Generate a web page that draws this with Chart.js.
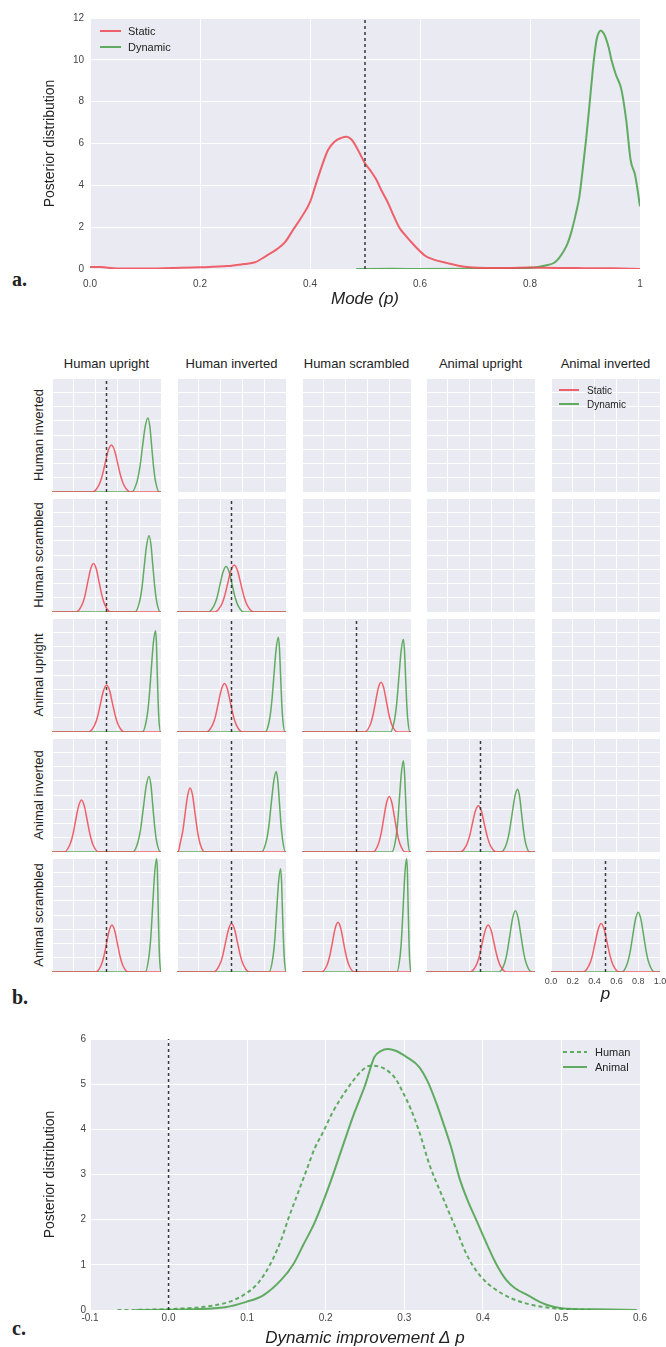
<!DOCTYPE html>
<html>
<head>
<meta charset="utf-8">
<script src="https://cdn.jsdelivr.net/npm/chart.js@4.4.1/dist/chart.umd.min.js"></script>
<style>
html, body { margin: 0; padding: 0; width: 666px; height: 1347px; overflow: hidden; background: #fff; }
body { position: relative; font-family: 'Liberation Sans', Arial, sans-serif; color: #222; }
canvas { position: absolute; }
.lab { position: absolute; white-space: nowrap; transform: translate(-50%, -50%); font-size: 13px; }
.rowlab { transform: translate(-50%, -50%) rotate(-90deg); }
.plabel { position: absolute; font: bold 20px 'Liberation Serif', 'Times New Roman', serif; transform: translateY(-50%); }
.legend { position: absolute; color: #222; }
.legend .item { display: flex; align-items: center; }
.legend .sw { height: 2px; display: inline-block; }
</style>
</head>
<body>
<div class="plabel" style="left:12px;top:279px">a.</div>
<div class="plabel" style="left:12px;top:997px">b.</div>
<div class="plabel" style="left:12px;top:1328px">c.</div>
<script>
// ---- panel a : posterior of the mode p
const xTicksA = ['0.0', '0.2', '0.4', '0.6', '0.8', '1'];
const chanceP = 0.5;
const staticA = [[0,0.1],[0.02,0.09],[0.05,0.02],[0.1,0.02],[0.15,0.05],[0.2,0.08],[0.25,0.14],[0.28,0.24],[0.3,0.32],[0.32,0.62],[0.34,0.95],[0.355,1.3],[0.37,1.9],[0.385,2.5],[0.4,3.2],[0.41,4.0],[0.42,4.8],[0.433,5.7],[0.445,6.1],[0.457,6.27],[0.466,6.32],[0.475,6.2],[0.484,5.85],[0.492,5.45],[0.5,5.05],[0.51,4.7],[0.52,4.3],[0.53,3.75],[0.542,3.15],[0.552,2.55],[0.562,2.0],[0.572,1.65],[0.582,1.35],[0.595,0.98],[0.61,0.62],[0.625,0.45],[0.65,0.28],[0.67,0.16],[0.69,0.08],[0.72,0.05],[0.76,0.05],[0.8,0.07],[0.85,0.05],[0.9,0.04],[0.95,0.03],[1.0,0.0]];
const dynamicA = [[0.484,0],[0.55,0.01],[0.6,0.0],[0.7,0.01],[0.78,0.03],[0.8,0.06],[0.815,0.1],[0.828,0.17],[0.844,0.3],[0.852,0.5],[0.86,0.8],[0.868,1.2],[0.875,1.75],[0.883,2.6],[0.89,3.5],[0.896,4.8],[0.902,6.2],[0.908,7.8],[0.913,9.2],[0.917,10.2],[0.921,10.95],[0.925,11.3],[0.929,11.4],[0.933,11.3],[0.937,11.1],[0.943,10.6],[0.948,10.0],[0.956,9.3],[0.966,8.6],[0.975,7.1],[0.983,5.2],[0.991,4.5],[1.0,3.0]];

// ---- panel b : pairwise comparisons (rows vs columns)
const rowNames = ['Human inverted', 'Human scrambled', 'Animal upright', 'Animal inverted', 'Animal scrambled'];
const colNames = ['Human upright', 'Human inverted', 'Human scrambled', 'Animal upright', 'Animal inverted'];
const xTicksB = ['0.0', '0.2', '0.4', '0.6', '0.8', '1.0'];

// Human inverted row
const st_hi_hu = [[0,0],[0.371,0],[0.429,0.46],[0.458,1.07],[0.487,2.0],[0.516,2.91],[0.545,3.3],[0.574,2.91],[0.603,2.0],[0.632,1.07],[0.661,0.46],[0.719,0],[1,0]];
const dy_hi_hu = [[0,0],[0.73,0],[0.78,0.73],[0.805,1.69],[0.83,3.16],[0.855,4.59],[0.88,5.2],[0.898,4.59],[0.915,3.16],[0.933,1.69],[0.95,0.73],[0.985,0],[1,0]];
// Human scrambled row
const st_hs_hu = [[0,0],[0.221,0],[0.274,0.48],[0.301,1.1],[0.327,2.06],[0.354,3.0],[0.38,3.4],[0.407,3.0],[0.433,2.06],[0.46,1.1],[0.486,0.48],[0.539,0],[1,0]];
const dy_hs_hu = [[0,0],[0.761,0],[0.804,0.75],[0.826,1.74],[0.847,3.25],[0.869,4.72],[0.89,5.35],[0.908,4.72],[0.925,3.25],[0.943,1.74],[0.96,0.75],[0.995,0],[1,0]];
const st_hs_hi = [[0,0],[0.345,0],[0.405,0.46],[0.435,1.07],[0.465,2.0],[0.495,2.91],[0.525,3.3],[0.555,2.91],[0.585,2.0],[0.615,1.07],[0.645,0.46],[0.705,0],[1,0]];
const dy_hs_hi = [[0,0],[0.285,0],[0.34,0.45],[0.368,1.04],[0.395,1.94],[0.423,2.82],[0.45,3.2],[0.478,2.82],[0.505,1.94],[0.533,1.04],[0.56,0.45],[0.615,0],[1,0]];
// Animal upright row
const st_au_hu = [[0,0],[0.335,0],[0.39,0.46],[0.418,1.07],[0.445,2.0],[0.473,2.91],[0.5,3.3],[0.528,2.91],[0.555,2.0],[0.583,1.07],[0.61,0.46],[0.665,0],[1,0]];
const dy_au_hu = [[0,0],[0.83,0],[0.87,1.0],[0.89,2.3],[0.91,4.3],[0.93,6.26],[0.95,7.1],[0.958,6.26],[0.965,4.3],[0.973,2.3],[0.98,1.0],[0.995,0],[1,0]];
const st_au_hi = [[0,0],[0.27,0],[0.325,0.48],[0.353,1.1],[0.38,2.06],[0.408,3.0],[0.435,3.4],[0.463,3.0],[0.49,2.06],[0.518,1.1],[0.545,0.48],[0.6,0],[1,0]];
const dy_au_hi = [[0,0],[0.81,0],[0.85,0.93],[0.87,2.16],[0.89,4.04],[0.91,5.87],[0.93,6.65],[0.94,5.87],[0.95,4.04],[0.96,2.16],[0.97,0.93],[0.99,0],[1,0]];
const st_au_hs = [[0,0],[0.575,0],[0.625,0.49],[0.65,1.14],[0.675,2.12],[0.7,3.09],[0.725,3.5],[0.75,3.09],[0.775,2.12],[0.8,1.14],[0.825,0.49],[0.875,0],[1,0]];
const dy_au_hs = [[0,0],[0.81,0],[0.85,0.91],[0.87,2.1],[0.89,3.95],[0.91,5.73],[0.93,6.5],[0.94,5.73],[0.95,3.95],[0.96,2.1],[0.97,0.91],[0.99,0],[1,0]];
// Animal inverted row
const st_ai_hu = [[0,0],[0.111,0],[0.164,0.51],[0.191,1.19],[0.217,2.22],[0.244,3.22],[0.27,3.65],[0.297,3.22],[0.323,2.22],[0.35,1.19],[0.376,0.51],[0.429,0],[1,0]];
const dy_ai_hu = [[0,0],[0.74,0],[0.79,0.74],[0.815,1.72],[0.84,3.22],[0.865,4.67],[0.89,5.3],[0.908,4.67],[0.925,3.22],[0.943,1.72],[0.96,0.74],[0.995,0],[1,0]];
const st_ai_hi = [[0,0],[0.01,0],[0.03,0.63],[0.053,1.46],[0.075,2.73],[0.098,3.97],[0.12,4.5],[0.143,3.97],[0.165,2.73],[0.188,1.46],[0.21,0.63],[0.255,0],[1,0]];
const dy_ai_hi = [[0,0],[0.775,0],[0.82,0.79],[0.843,1.84],[0.865,3.43],[0.888,4.98],[0.91,5.65],[0.925,4.98],[0.94,3.43],[0.955,1.84],[0.97,0.79],[0.995,0],[1,0]];
const st_ai_hs = [[0,0],[0.65,0],[0.7,0.55],[0.725,1.27],[0.75,2.37],[0.775,3.44],[0.8,3.9],[0.825,3.44],[0.85,2.37],[0.875,1.27],[0.9,0.55],[0.95,0],[1,0]];
const dy_ai_hs = [[0,0],[0.825,0],[0.86,0.9],[0.878,2.08],[0.895,3.88],[0.913,5.64],[0.93,6.4],[0.94,5.64],[0.95,3.88],[0.96,2.08],[0.97,0.9],[0.99,0],[1,0]];
const st_ai_au = [[0,0],[0.315,0],[0.37,0.46],[0.398,1.06],[0.425,1.97],[0.453,2.87],[0.48,3.25],[0.508,2.87],[0.535,1.97],[0.563,1.06],[0.59,0.46],[0.645,0],[1,0]];
const dy_ai_au = [[0,0],[0.69,0],[0.74,0.62],[0.765,1.43],[0.79,2.67],[0.815,3.88],[0.84,4.4],[0.859,3.88],[0.877,2.67],[0.896,1.43],[0.914,0.62],[0.951,0],[1,0]];
// Animal scrambled row
const st_as_hu = [[0,0],[0.4,0],[0.45,0.46],[0.475,1.07],[0.5,2.0],[0.525,2.91],[0.55,3.3],[0.575,2.91],[0.6,2.0],[0.625,1.07],[0.65,0.46],[0.7,0],[1,0]];
const dy_as_hu = [[0,0],[0.855,0],[0.89,1.12],[0.908,2.6],[0.925,4.86],[0.943,7.05],[0.96,7.95],[0.967,7.05],[0.973,4.86],[0.98,2.6],[0.986,1.12],[0.999,0],[1,0]];
const st_as_hi = [[0,0],[0.335,0],[0.39,0.48],[0.418,1.1],[0.445,2.06],[0.473,3.0],[0.5,3.4],[0.528,3.0],[0.555,2.06],[0.583,1.1],[0.61,0.48],[0.665,0],[1,0]];
const dy_as_hi = [[0,0],[0.845,0],[0.88,1.02],[0.898,2.36],[0.915,4.4],[0.933,6.4],[0.95,7.25],[0.959,6.4],[0.967,4.4],[0.976,2.36],[0.984,1.02],[0.999,0],[1,0]];
const st_as_hs = [[0,0],[0.18,0],[0.23,0.49],[0.255,1.14],[0.28,2.12],[0.305,3.09],[0.33,3.5],[0.355,3.09],[0.38,2.12],[0.405,1.14],[0.43,0.49],[0.48,0],[1,0]];
const dy_as_hs = [[0,0],[0.87,0],[0.9,1.12],[0.915,2.6],[0.93,4.86],[0.945,7.05],[0.96,7.95],[0.967,7.05],[0.973,4.86],[0.98,2.6],[0.986,1.12],[0.999,0],[1,0]];
const st_as_au = [[0,0],[0.405,0],[0.46,0.46],[0.488,1.07],[0.515,2.0],[0.543,2.91],[0.57,3.3],[0.598,2.91],[0.625,2.0],[0.653,1.07],[0.68,0.46],[0.735,0],[1,0]];
const dy_as_au = [[0,0],[0.67,0],[0.72,0.6],[0.745,1.4],[0.77,2.61],[0.795,3.79],[0.82,4.3],[0.845,3.79],[0.87,2.61],[0.895,1.4],[0.92,0.6],[0.97,0],[1,0]];
const st_as_ai = [[0,0],[0.295,0],[0.35,0.48],[0.378,1.1],[0.405,2.06],[0.433,3.0],[0.46,3.4],[0.488,3.0],[0.515,2.06],[0.543,1.1],[0.57,0.48],[0.625,0],[1,0]];
const dy_as_ai = [[0,0],[0.65,0],[0.7,0.59],[0.725,1.37],[0.75,2.55],[0.775,3.7],[0.8,4.2],[0.825,3.7],[0.85,2.55],[0.875,1.37],[0.9,0.59],[0.95,0],[1,0]];

// ---- panel c : dynamic improvement
const xTicksC = ['-0.1', '0.0', '0.1', '0.2', '0.3', '0.4', '0.5', '0.6'];
const humanC = [[-0.065,0],[-0.03,0.005],[0,0.02],[0.045,0.07],[0.077,0.18],[0.099,0.37],[0.115,0.62],[0.132,1.1],[0.143,1.54],[0.153,2.05],[0.164,2.56],[0.175,3.07],[0.186,3.58],[0.197,3.95],[0.208,4.35],[0.218,4.65],[0.235,5.08],[0.246,5.3],[0.2565,5.41],[0.265,5.4],[0.275,5.34],[0.289,5.12],[0.297,4.86],[0.308,4.46],[0.319,3.95],[0.332,3.22],[0.349,2.49],[0.365,1.83],[0.381,1.17],[0.398,0.73],[0.414,0.48],[0.436,0.26],[0.463,0.11],[0.49,0.04],[0.52,0.01],[0.54,0]];
const animalC = [[-0.042,0],[0.0,0.005],[0.029,0.015],[0.072,0.06],[0.099,0.18],[0.121,0.33],[0.143,0.66],[0.159,1.02],[0.172,1.46],[0.185,1.9],[0.197,2.41],[0.208,2.93],[0.218,3.44],[0.228,3.95],[0.237,4.39],[0.25,4.97],[0.262,5.6],[0.27,5.73],[0.279,5.78],[0.289,5.74],[0.303,5.6],[0.319,5.38],[0.33,5.05],[0.341,4.57],[0.349,4.17],[0.36,3.58],[0.37,2.93],[0.381,2.41],[0.392,1.98],[0.403,1.54],[0.417,1.02],[0.43,0.66],[0.441,0.48],[0.457,0.33],[0.468,0.22],[0.482,0.11],[0.5,0.04],[0.544,0.015],[0.596,0]];

// ---- styling / layout
const RED = 'rgba(238, 72, 82, 0.85)';
const GREEN = 'rgba(72, 160, 72, 0.85)';
const BG = '#EAEAF2';
const colLeft = [52, 177, 302, 426, 551];
const rowTop = [378, 498, 618, 738, 858];
const CELL_W = 109, CELL_H = 114;

Chart.defaults.font.family = "'Liberation Sans', Arial, sans-serif";
Chart.defaults.color = '#444';

const bgPlugin = {
    id: 'bg',
    beforeDraw(chart) {
        const { ctx, chartArea: a } = chart;
        ctx.save();
        ctx.fillStyle = BG;
        ctx.fillRect(a.left, a.top, a.width, a.height);
        ctx.restore();
    }
};

function addCanvas(left, top, w, h) {
    const c = document.createElement('canvas');
    c.width = w;
    c.height = h;
    c.style.left = left + 'px';
    c.style.top = top + 'px';
    document.body.appendChild(c);
    return c;
}

function line(label, data, color, width, dash) {
    return {
        label, data,
        borderColor: color, borderWidth: width, borderDash: dash || [],
        pointRadius: 0, fill: false, cubicInterpolationMode: 'monotone'
    };
}

function refLine(x, y0, y1) {
    return {
        data: [[x, y0], [x, y1]],
        borderColor: '#3a3a3a', borderWidth: 1.5, borderDash: [3, 3],
        pointRadius: 0, fill: false
    };
}

function axisX(o) {
    return {
        type: 'linear', min: o.min, max: o.max,
        ticks: {
            display: !!o.labels, stepSize: o.step, padding: o.pad || 0,
            font: { size: o.tickSize || 10 }, color: '#444', maxRotation: 0, autoSkip: false,
            callback: (v, i) => o.labels ? o.labels[i] : ''
        },
        grid: { color: '#fff', lineWidth: 1, drawTicks: false },
        border: { display: false },
        title: o.title ? {
            display: true, text: o.title, color: '#222',
            font: { size: 17, style: 'italic', lineHeight: 1 },
            padding: { top: 0, bottom: o.titlePad }
        } : { display: false },
        afterFit: s => { s.height = o.height; }
    };
}

function axisY(o) {
    return {
        type: 'linear', min: o.min, max: o.max,
        ticks: {
            display: o.showTicks !== false, stepSize: o.step, padding: o.pad || 0,
            font: { size: 10 }, color: '#444'
        },
        grid: { color: '#fff', lineWidth: 1, drawTicks: false },
        border: { display: false },
        title: o.title ? {
            display: true, text: o.title, color: '#222',
            font: { size: 14, lineHeight: 1 },
            padding: { top: o.titlePad, bottom: 0 }
        } : { display: false },
        afterFit: s => { s.width = o.width; }
    };
}

const common = {
    responsive: false,
    animation: false,
    devicePixelRatio: 1,
    plugins: { legend: { display: false }, tooltip: { enabled: false } }
};

function htmlLegend(chart, left, top, fontSize, rowH, swW, gap) {
    const box = document.createElement('div');
    box.className = 'legend';
    box.style.left = left + 'px';
    box.style.top = top + 'px';
    box.style.fontSize = fontSize + 'px';
    chart.data.datasets.filter(d => d.label).forEach(d => {
        const item = document.createElement('div');
        item.className = 'item';
        item.style.height = rowH + 'px';
        const sw = document.createElement('span');
        sw.className = 'sw';
        sw.style.width = swW + 'px';
        sw.style.marginRight = gap + 'px';
        sw.style.background = d.borderDash.length
            ? `repeating-linear-gradient(90deg, ${d.borderColor} 0 4px, transparent 4px 7px)`
            : d.borderColor;
        const txt = document.createElement('span');
        txt.textContent = d.label;
        item.appendChild(sw);
        item.appendChild(txt);
        box.appendChild(item);
    });
    document.body.appendChild(box);
}

function addLabel(text, x, y, cls) {
    const d = document.createElement('div');
    d.className = 'lab' + (cls ? ' ' + cls : '');
    d.style.left = x + 'px';
    d.style.top = y + 'px';
    d.textContent = text;
    document.body.appendChild(d);
}

// ---- panel a
const chartA = new Chart(addCanvas(36, 5, 620, 309), {
    type: 'line',
    data: { datasets: [
        refLine(chanceP, 0, 12),
        line('Static', staticA, RED, 2),
        line('Dynamic', dynamicA, GREEN, 2)
    ] },
    options: {
        ...common,
        layout: { padding: { top: 13, right: 16, left: 0, bottom: 0 } },
        scales: {
            x: axisX({ min: 0, max: 1, step: 0.2, labels: xTicksA, pad: 9, height: 45, title: 'Mode (p)', titlePad: 6 }),
            y: axisY({ min: 0, max: 12, step: 2, pad: 6, width: 54, title: 'Posterior distribution', titlePad: 7 })
        }
    },
    plugins: [bgPlugin]
});
htmlLegend(chartA, 100, 23, 11, 16, 21, 7);

// ---- panel b
const cellCurves = [
    [[st_hi_hu, dy_hi_hu]],
    [[st_hs_hu, dy_hs_hu], [st_hs_hi, dy_hs_hi]],
    [[st_au_hu, dy_au_hu], [st_au_hi, dy_au_hi], [st_au_hs, dy_au_hs]],
    [[st_ai_hu, dy_ai_hu], [st_ai_hi, dy_ai_hi], [st_ai_hs, dy_ai_hs], [st_ai_au, dy_ai_au]],
    [[st_as_hu, dy_as_hu], [st_as_hi, dy_as_hi], [st_as_hs, dy_as_hs], [st_as_au, dy_as_au], [st_as_ai, dy_as_ai]]
];

colNames.forEach((name, c) => addLabel(name, colLeft[c] + CELL_W / 2, 363));
rowNames.forEach((name, r) => addLabel(name, 38, rowTop[r] + CELL_H / 2, 'rowlab'));

rowNames.forEach((rn, r) => {
    colNames.forEach((cn, c) => {
        const pair = cellCurves[r][c];
        const last = r === rowNames.length - 1 && c === colNames.length - 1;
        const ex = last ? 14 : 0;
        const axisH = last ? 33 : 0;
        const canvas = addCanvas(colLeft[c] - ex, rowTop[r], CELL_W + 2 * ex, CELL_H + (last ? axisH : 2));
        const datasets = pair ? [
            refLine(chanceP, 0, 8),
            line('Static', pair[0], RED, 1.5),
            line('Dynamic', pair[1], GREEN, 1.5)
        ] : [];
        new Chart(canvas, {
            type: 'line',
            data: { datasets },
            options: {
                ...common,
                layout: { padding: { left: ex, right: ex, top: 0, bottom: last ? 0 : 2 } },
                scales: {
                    x: axisX({ min: 0, max: 1, step: 0.2, labels: last ? xTicksB : null, pad: 4, tickSize: 9,
                               height: axisH, title: last ? 'p' : null, titlePad: 2 }),
                    y: axisY({ min: 0, max: 8, step: 1, showTicks: false, width: 0 })
                }
            },
            plugins: [bgPlugin]
        });
    });
});
htmlLegend(chartA, 559, 383, 10, 14, 20, 8);

// ---- panel c
const chartC = new Chart(addCanvas(36, 1029, 620, 318), {
    type: 'line',
    data: { datasets: [
        refLine(0, 0, 6),
        line('Human', humanC, GREEN, 2, [4, 3]),
        line('Animal', animalC, GREEN, 2)
    ] },
    options: {
        ...common,
        layout: { padding: { top: 8, right: 16, left: 0, bottom: 0 } },
        scales: {
            x: axisX({ min: -0.1, max: 0.6, step: 0.1, labels: xTicksC, pad: 2, height: 37, title: 'Dynamic improvement Δ p', titlePad: 0 }),
            y: axisY({ min: 0, max: 6, step: 1, pad: 4, width: 54, title: 'Posterior distribution', titlePad: 7 })
        }
    },
    plugins: [bgPlugin]
});
htmlLegend(chartC, 563, 1044, 11, 15, 24, 8);
</script>
</body>
</html>
